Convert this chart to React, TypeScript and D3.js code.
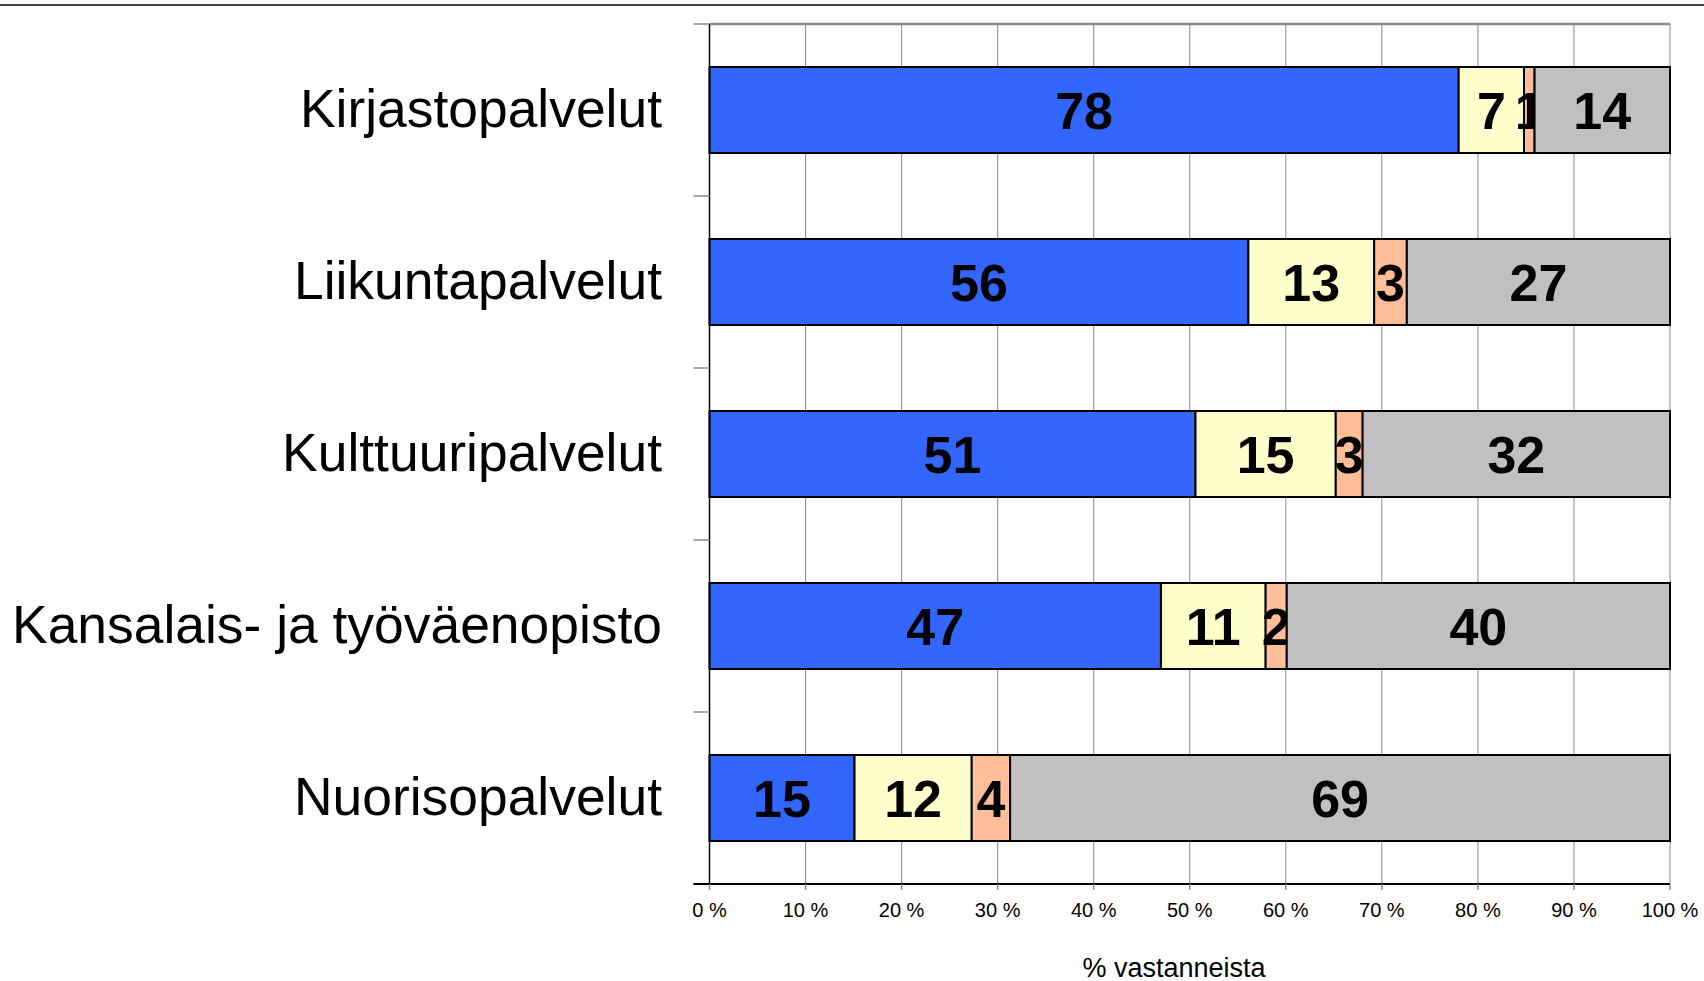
import React from "react";
import * as d3 from "d3";

const categories = [
  "Kirjastopalvelut",
  "Liikuntapalvelut",
  "Kulttuuripalvelut",
  "Kansalais- ja työväenopisto",
  "Nuorisopalvelut",
];
const series1 = [78.0, 56.1, 50.6, 47.0, 15.1];
const series2 = [6.8, 13.1, 14.6, 10.9, 12.2];
const series3 = [1.1, 3.4, 2.8, 2.2, 4.0];
const series4 = [14.1, 27.4, 32.0, 39.9, 68.7];
const seriesKeys = ["s1", "s2", "s3", "s4"];
const seriesColors = ["#3366FF", "#FFFFCC", "#FFBE98", "#C0C0C0"];
const xTicks = [0, 10, 20, 30, 40, 50, 60, 70, 80, 90, 100];
const xTitle = "% vastanneista";

const W = 1704;
const H = 981;
const FONT = "'Liberation Sans', Arial, Helvetica, sans-serif";

export default function App() {
  const left = 709.5;
  const right = 1670;
  const top = 24;
  const bottom = 884;

  const x = d3.scaleLinear().domain([0, 100]).range([left, right]);
  const y = d3
    .scaleBand<string>()
    .domain(categories)
    .range([top, bottom])
    .paddingInner(0.5)
    .paddingOuter(0.25);

  const rows = categories.map((c, i) => ({
    cat: c,
    s1: series1[i],
    s2: series2[i],
    s3: series3[i],
    s4: series4[i],
  }));
  const stacked = d3.stack<any>().keys(seriesKeys)(rows);
  const step = y.step();
  const catBounds = d3.range(categories.length + 1).map((i) => top + i * step);

  return (
    <svg
      width={W}
      height={H}
      style={{ position: "absolute", left: 0, top: 0, display: "block", background: "#fff" }}
    >
      <rect x={0} y={0} width={W} height={H} fill="#fff" />
      {/* top rule */}
      <line x1={0} x2={W} y1={5} y2={5} stroke="#444" strokeWidth={2} />

      {/* gridlines */}
      {xTicks.map((t) => (
        <line
          key={"g" + t}
          x1={x(t)}
          x2={x(t)}
          y1={top}
          y2={bottom}
          stroke="#8a8a8a"
          strokeWidth={1}
        />
      ))}
      {/* top border */}
      <line x1={left} x2={right} y1={top} y2={top} stroke="#8a8a8a" strokeWidth={2.5} />

      {/* bars and labels, series by series */}
      {stacked.map((layer, si) => (
        <g key={"layer" + si}>
          {layer.map((d: any, i: number) => (
            <rect
              key={"r" + i}
              x={x(d[0])}
              y={y(categories[i])}
              width={x(d[1]) - x(d[0])}
              height={y.bandwidth()}
              fill={seriesColors[si]}
              stroke="#000"
              strokeWidth={2}
            />
          ))}
          {layer.map((d: any, i: number) => (
            <text
              key={"t" + i}
              x={(x(d[0]) + x(d[1])) / 2}
              y={(y(categories[i]) as number) + y.bandwidth() / 2 + 19}
              textAnchor="middle"
              fontFamily={FONT}
              fontWeight="bold"
              fontSize={52}
              fill="#000"
            >
              {Math.round(d[1] - d[0])}
            </text>
          ))}
        </g>
      ))}

      {/* y axis */}
      <line x1={left} x2={left} y1={top} y2={bottom} stroke="#000" strokeWidth={1.5} />
      {catBounds.map((b, i) => (
        <line key={"ct" + i} x1={left - 16} x2={left} y1={b} y2={b} stroke="#8a8a8a" strokeWidth={1.5} />
      ))}
      {categories.map((c) => (
        <text
          key={"cl" + c}
          x={662}
          y={(y(c) as number) + y.bandwidth() / 2 + 17}
          textAnchor="end"
          fontFamily={FONT}
          fontSize={53.4}
          fill="#000"
        >
          {c}
        </text>
      ))}

      {/* x axis */}
      <line x1={left - 16} x2={right} y1={bottom} y2={bottom} stroke="#000" strokeWidth={2} />
      {xTicks.map((t) => (
        <line
          key={"xt" + t}
          x1={x(t)}
          x2={x(t)}
          y1={bottom}
          y2={bottom + 6}
          stroke="#8a8a8a"
          strokeWidth={1.5}
        />
      ))}
      {xTicks.map((t) => (
        <text
          key={"xl" + t}
          x={x(t)}
          y={916.5}
          textAnchor="middle"
          fontFamily={FONT}
          fontSize={20}
          fill="#000"
        >
          {t + " %"}
        </text>
      ))}
      <text
        x={1174}
        y={976.5}
        textAnchor="middle"
        fontFamily={FONT}
        fontSize={27}
        fill="#000"
      >
        {xTitle}
      </text>
    </svg>
  );
}
